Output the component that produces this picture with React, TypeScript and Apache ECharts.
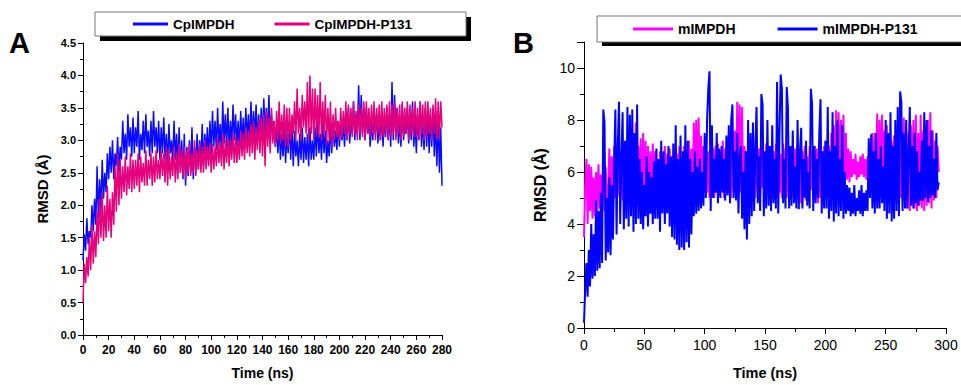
import React, { useEffect, useRef } from "react";
import * as echarts from "echarts";

// Panel A: RMSD (Å) sampled every STEP_A ns from 0 to 280 ns
const STEP_A = 1;
const cpIMPDH = [
  1.15, 1.55, 1.3, 1.8, 1.4, 1.6, 1.5, 2.0, 1.6, 2.1, 1.7, 2.6, 1.8, 2.4, 1.9, 2.7, 2.1, 2.5, 2.2, 2.8,
  2.4, 2.9, 2.5, 3.0, 2.4, 2.8, 2.6, 3.05, 2.5, 2.9, 2.7, 3.3, 2.8, 3.1, 2.7, 3.4, 2.9, 3.2, 2.75, 3.35,
  2.8, 3.2, 2.9, 3.45, 2.7, 3.1, 2.85, 3.3, 2.8, 3.4, 2.9, 3.15, 2.75, 3.3, 2.8, 3.45, 2.9, 3.2, 2.8, 3.3,
  2.7, 3.2, 2.8, 3.35, 2.7, 3.1, 2.6, 3.25, 2.8, 3.0, 2.65, 3.3, 2.7, 3.1, 2.6, 3.2, 2.5, 3.0, 2.4, 3.1,
  2.3, 2.9, 2.45, 3.0, 2.5, 3.2, 2.4, 2.9, 2.6, 3.1, 2.55, 3.0, 2.7, 3.25, 2.6, 3.1, 2.8, 3.2, 2.7, 3.3,
  2.8, 3.45, 2.9, 3.3, 2.85, 3.5, 2.9, 3.25, 2.8, 3.6, 2.95, 3.4, 2.9, 3.5, 2.85, 3.3, 2.9, 3.55, 3.0, 3.4,
  2.9, 3.3, 2.85, 3.45, 2.95, 3.35, 2.9, 3.5, 3.0, 3.4, 2.9, 3.6, 3.0, 3.45, 3.05, 3.55, 2.95, 3.4, 3.0, 3.5,
  3.0, 3.65, 3.1, 3.5, 3.05, 3.7, 3.1, 3.4, 3.0, 3.3, 2.9, 3.2, 2.8, 3.25, 2.7, 3.1, 2.75, 3.2, 2.65, 3.1,
  2.8, 3.3, 2.7, 3.2, 2.6, 3.15, 2.75, 3.0, 2.6, 3.1, 2.7, 3.2, 2.65, 3.05, 2.7, 3.1, 2.6, 3.2, 2.7, 3.0,
  2.7, 3.2, 2.75, 3.3, 2.8, 3.1, 2.7, 3.25, 2.8, 3.15, 2.65, 3.0, 2.75, 3.2, 2.8, 3.3, 2.9, 3.15, 2.85, 3.3,
  2.9, 3.3, 3.0, 3.25, 2.9, 3.4, 3.0, 3.5, 2.95, 3.3, 3.1, 3.6, 3.0, 3.4, 3.1, 3.85, 3.0, 3.7, 3.1, 3.5,
  3.0, 3.5, 3.1, 3.35, 2.9, 3.3, 3.0, 3.5, 3.1, 3.4, 2.95, 3.3, 3.0, 3.45, 2.9, 3.35, 3.05, 3.5, 3.0, 3.4,
  2.9, 3.9, 3.0, 3.7, 3.05, 3.5, 2.95, 3.3, 2.9, 3.55, 3.0, 3.3, 3.1, 3.5, 2.95, 3.4, 3.0, 3.6, 2.9, 3.3,
  2.8, 3.4, 3.0, 3.6, 2.9, 3.3, 2.85, 3.5, 2.9, 3.4, 2.8, 3.35, 2.9, 3.5, 2.75, 3.3, 2.6, 3.4, 2.5, 3.2,
  2.3,
];
const cpIMPDH_P131 = [
  0.5, 1.1, 0.8, 1.2, 0.9, 1.5, 1.0, 1.7, 1.1, 1.6, 1.2, 1.9, 1.4, 2.1, 1.5, 2.2, 1.45, 2.0, 1.5, 2.3,
  1.6, 2.1, 1.5, 2.2, 1.7, 2.6, 1.9, 2.8, 2.0, 2.7, 2.1, 2.6, 2.2, 2.75, 2.15, 2.6, 2.25, 2.8, 2.2, 2.7,
  2.25, 2.7, 2.3, 2.8, 2.2, 2.75, 2.35, 2.65, 2.3, 2.85, 2.3, 2.7, 2.4, 2.8, 2.3, 2.75, 2.35, 2.85, 2.4, 2.7,
  2.4, 2.85, 2.45, 2.8, 2.35, 2.9, 2.3, 2.85, 2.4, 2.75, 2.45, 2.9, 2.35, 2.8, 2.4, 2.95, 2.5, 2.85, 2.45, 2.9,
  2.4, 2.85, 2.5, 2.95, 2.45, 2.8, 2.5, 3.0, 2.45, 2.85, 2.55, 2.95, 2.5, 2.9, 2.5, 3.0, 2.55, 2.9, 2.6, 2.95,
  2.5, 2.95, 2.55, 2.9, 2.6, 3.05, 2.65, 2.95, 2.6, 3.1, 2.55, 3.0, 2.65, 3.05, 2.6, 3.0, 2.7, 3.1, 2.65, 3.05,
  2.65, 3.0, 2.7, 3.15, 2.75, 3.1, 2.7, 3.2, 2.8, 3.15, 2.75, 3.25, 2.8, 3.3, 2.7, 3.2, 2.85, 3.3, 2.8, 3.35,
  2.75, 3.4, 2.6, 3.45, 2.9, 3.35, 2.8, 3.5, 2.95, 3.3, 2.9, 3.45, 3.0, 3.6, 2.95, 3.4, 3.0, 3.55, 2.9, 3.5,
  2.9, 3.5, 3.0, 3.4, 3.1, 3.6, 3.0, 3.8, 3.1, 3.5, 3.0, 3.7, 3.2, 3.6, 3.1, 3.9, 3.0, 4.0, 3.1, 3.8,
  3.0, 3.8, 3.1, 3.7, 3.05, 3.9, 3.0, 3.6, 3.1, 3.7, 2.95, 3.5, 3.0, 3.6, 2.9, 3.4, 3.0, 3.5, 3.05, 3.3,
  3.0, 3.5, 3.05, 3.45, 3.1, 3.6, 3.0, 3.55, 3.1, 3.5, 3.05, 3.6, 3.1, 3.45, 3.0, 3.55, 3.1, 3.5, 3.05, 3.6,
  3.0, 3.6, 3.1, 3.5, 3.05, 3.55, 3.1, 3.6, 3.0, 3.5, 3.1, 3.55, 3.0, 3.6, 3.05, 3.5, 3.1, 3.55, 3.0, 3.6,
  3.05, 3.55, 3.1, 3.6, 3.0, 3.5, 3.1, 3.55, 3.0, 3.6, 3.05, 3.5, 3.1, 3.6, 3.0, 3.55, 3.1, 3.5, 3.05, 3.6,
  3.05, 3.5, 3.0, 3.6, 3.1, 3.55, 3.0, 3.6, 3.05, 3.6, 3.1, 3.5, 3.0, 3.55, 3.1, 3.65, 3.0, 3.6, 3.05, 3.6,
  3.2,
];

// Panel B: RMSD (Å) sampled every STEP_B ns from 0 to 294 ns
const STEP_B = 1;
const mIMPDH = [
  3.5, 5.5, 6.5, 4.0, 6.3, 4.5, 6.2, 4.2, 5.8, 4.3, 6.0, 4.4, 6.3, 4.6, 5.9, 4.8, 6.0, 4.5, 6.2, 4.9,
  5.0, 6.9, 5.2, 6.6, 4.8, 7.0, 5.0, 6.7, 5.1, 6.5, 5.2, 6.8, 4.9, 6.9, 5.0, 7.0, 4.8, 6.6, 5.1, 6.9,
  4.6, 7.5, 4.5, 7.9, 4.7, 7.0, 4.8, 7.3, 4.6, 7.5, 4.3, 7.2, 4.5, 7.0, 5.0, 6.8, 4.7, 7.1, 4.9, 6.8,
  5.0, 6.5, 4.8, 6.8, 5.2, 6.6, 4.9, 7.0, 5.0, 6.7, 5.1, 6.9, 4.8, 6.6, 5.2, 6.8, 5.0, 6.7, 4.9, 7.0,
  4.8, 6.5, 5.0, 7.0, 5.2, 6.8, 5.0, 7.2, 5.1, 6.9, 5.0, 7.9, 5.3, 8.0, 5.2, 8.1, 5.0, 7.4, 5.3, 7.0,
  5.5, 7.0, 5.2, 6.8, 5.0, 7.2, 5.3, 6.9, 5.0, 7.0, 5.2, 7.1, 5.1, 6.8, 5.3, 7.2, 5.0, 6.9, 5.2, 7.3,
  5.2, 7.3, 5.0, 7.0, 5.3, 7.6, 5.1, 8.7, 5.5, 8.6, 5.2, 8.5, 5.0, 7.0, 5.2, 6.8, 5.0, 7.2, 5.3, 6.9,
  5.2, 6.8, 5.0, 7.2, 5.3, 6.9, 5.1, 7.0, 5.4, 6.8, 5.0, 7.1, 5.2, 6.9, 5.3, 7.0, 5.0, 6.8, 5.2, 7.1,
  5.0, 7.0, 5.2, 6.7, 5.0, 7.1, 5.3, 6.9, 5.0, 7.2, 4.9, 6.8, 5.1, 7.0, 5.2, 6.9, 5.0, 7.1, 4.9, 6.8,
  4.8, 6.8, 5.2, 7.0, 4.9, 6.6, 5.1, 7.0, 5.3, 6.8, 5.0, 7.0, 5.2, 6.9, 4.8, 7.1, 5.0, 6.8, 5.2, 7.0,
  5.0, 7.2, 5.2, 7.0, 5.0, 7.5, 5.3, 7.8, 5.4, 8.37, 5.5, 8.3, 5.3, 8.0, 5.5, 8.2, 5.6, 7.5, 5.7, 6.9,
  5.6, 6.8, 5.8, 6.5, 5.9, 6.7, 5.7, 6.4, 5.8, 6.6, 5.9, 6.7, 5.8, 6.5, 5.7, 6.6, 5.6, 7.0, 5.5, 7.5,
  5.5, 7.5, 5.6, 8.25, 5.8, 8.0, 5.6, 8.2, 5.5, 7.6, 5.3, 7.8, 5.2, 7.0, 5.4, 7.2, 5.0, 7.4, 5.2, 7.0,
  4.8, 7.2, 5.0, 7.0, 4.9, 8.1, 4.7, 7.6, 4.6, 7.5, 4.5, 7.8, 4.7, 8.0, 4.6, 8.2, 4.5, 7.5, 4.7, 8.2,
  4.6, 7.6, 4.5, 7.8, 4.7, 8.0, 4.8, 8.3, 4.6, 7.6, 4.9, 7.2, 5.0, 7.0, 6.0,
];
const mIMPDH_P131 = [
  0.2, 1.5, 2.5, 1.2, 3.0, 1.6, 4.0, 1.9, 3.6, 2.0, 4.9, 2.2, 4.5, 2.3, 5.2, 2.5, 8.4, 7.9, 2.6, 5.0,
  2.9, 5.8, 2.8, 5.5, 3.4, 6.2, 8.4, 3.6, 7.0, 8.7, 4.0, 6.5, 8.3, 3.8, 7.2, 4.2, 8.5, 3.9, 8.2, 4.3,
  8.4, 3.7, 7.5, 4.0, 8.6, 4.2, 6.5, 4.0, 6.0, 3.8, 5.5, 4.3, 6.6, 3.9, 6.0, 4.4, 5.8, 4.0, 6.4, 4.2,
  6.9, 4.2, 6.5, 3.7, 7.2, 4.4, 6.8, 4.0, 6.3, 4.4, 7.0, 3.9, 6.6, 3.5, 7.1, 3.4, 7.8, 3.2, 6.5, 3.0,
  7.4, 3.1, 6.8, 3.0, 7.8, 3.3, 7.2, 3.1, 6.5, 3.6, 6.0, 4.3, 6.8, 4.4, 6.2, 4.5, 6.5, 4.6, 6.0, 4.7,
  7.5, 5.0, 8.0, 9.2, 9.87, 4.5, 7.8, 5.0, 6.5, 5.2, 7.5, 4.8, 6.9, 5.0, 7.0, 5.2, 6.5, 4.9, 7.4, 5.1,
  7.8, 4.8, 8.0, 8.6, 5.0, 6.8, 4.9, 7.5, 4.4, 6.5, 7.0, 4.2, 6.0, 3.8, 6.8, 3.4, 8.0, 4.0, 7.5, 4.3,
  7.9, 4.5, 7.0, 8.5, 4.8, 6.6, 4.5, 9.0, 8.6, 4.3, 6.8, 4.6, 8.0, 4.7, 7.0, 4.5, 7.8, 4.8, 6.5, 4.6,
  9.46, 4.4, 7.5, 9.75, 9.2, 4.8, 6.5, 4.6, 9.27, 8.5, 4.6, 7.0, 4.7, 7.6, 4.8, 6.2, 4.6, 8.0, 4.57, 6.8,
  7.7, 4.6, 6.5, 5.0, 7.2, 4.7, 6.0, 4.6, 9.2, 8.6, 4.5, 7.0, 4.8, 6.5, 5.0, 7.5, 8.8, 4.4, 6.8, 4.6,
  7.2, 4.6, 8.5, 4.2, 6.8, 4.5, 8.3, 4.1, 7.0, 4.4, 8.0, 4.3, 6.5, 4.5, 7.8, 4.2, 6.0, 4.4, 5.5, 4.5,
  5.4, 4.3, 5.2, 4.4, 5.5, 4.3, 5.0, 4.5, 5.3, 4.4, 5.5, 4.3, 5.2, 4.5, 5.3, 4.5, 7.3, 5.0, 7.45, 4.6,
  6.8, 4.4, 7.5, 4.6, 6.5, 4.6, 7.0, 4.8, 6.2, 4.5, 8.0, 4.2, 7.5, 4.4, 8.3, 4.1, 7.0, 4.2, 8.0, 4.5,
  8.5, 4.3, 9.1, 8.7, 4.5, 7.5, 4.6, 8.0, 4.6, 6.5, 8.5, 4.7, 7.0, 4.6, 7.5, 4.8, 6.8, 4.7, 6.0, 4.9,
  7.2, 4.9, 8.3, 5.0, 8.0, 4.85, 7.0, 5.0, 7.6, 5.1, 6.5, 5.0, 7.5, 5.3, 5.6,
];

const FONT = 'Arial, "Liberation Sans", Helvetica, sans-serif';

const toPairs = (arr: number[], step: number) => arr.map((v, i) => [i * step, v]);

export default function App() {
  const ref = useRef<HTMLDivElement>(null);
  useEffect(() => {
    if (!ref.current) return;
    const chart = echarts.init(ref.current, undefined, { renderer: "svg" });
    const axisLine = { show: true, onZero: false, lineStyle: { color: "#000", width: 1 } };
    const option: any = {
      animation: false,
      backgroundColor: "#fff",
      grid: [
        { left: 83, top: 43, width: 359, height: 292 },
        { left: 584, top: 42, width: 362, height: 293 },
      ],
      xAxis: [
        {
          gridIndex: 0, type: "value", min: 0, max: 280, interval: 20,
          axisLine, axisTick: { show: true, length: 5, lineStyle: { color: "#000" } },
          minorTick: { show: true, splitNumber: 2, length: 3, lineStyle: { color: "#000" } },
          splitLine: { show: false },
          axisLabel: { color: "#000", fontWeight: "bold", fontSize: 12, fontFamily: FONT, margin: 9 },
          name: "Time (ns)", nameLocation: "middle", nameGap: 31,
          nameTextStyle: { color: "#000", fontWeight: "bold", fontSize: 14, fontFamily: FONT },
        },
        {
          gridIndex: 1, type: "value", min: 0, max: 300, interval: 50,
          axisLine, axisTick: { show: true, length: 6, lineStyle: { color: "#000" } },
          minorTick: { show: true, splitNumber: 2, length: 4, lineStyle: { color: "#000" } },
          splitLine: { show: false },
          axisLabel: { color: "#000", fontSize: 14, fontFamily: FONT, margin: 10 },
          name: "Time (ns)", nameLocation: "middle", nameGap: 37,
          nameTextStyle: { color: "#000", fontWeight: "bold", fontSize: 14.5, fontFamily: FONT },
        },
      ],
      yAxis: [
        {
          gridIndex: 0, type: "value", min: 0, max: 4.5, interval: 0.5,
          axisLine, axisTick: { show: true, length: 5, lineStyle: { color: "#000" } },
          minorTick: { show: true, splitNumber: 2, length: 3, lineStyle: { color: "#000" } },
          splitLine: { show: false },
          axisLabel: {
            color: "#000", fontWeight: "bold", fontSize: 11, fontFamily: FONT, margin: 7,
            formatter: (v: number) => v.toFixed(1),
          },
          name: "RMSD (Å)", nameLocation: "middle", nameGap: 33,
          nameTextStyle: { color: "#000", fontWeight: "bold", fontSize: 15, fontFamily: FONT },
        },
        {
          gridIndex: 1, type: "value", min: 0, max: 11, interval: 2,
          axisLine, axisTick: { show: true, length: 7, lineStyle: { color: "#000" } },
          minorTick: { show: true, splitNumber: 2, length: 4, lineStyle: { color: "#000" } },
          splitLine: { show: false },
          axisLabel: {
            color: "#000", fontSize: 14, fontFamily: FONT, margin: 9,
            formatter: (v: number) => (v % 2 === 0 ? String(v) : ""),
          },
          name: "RMSD (Å)", nameLocation: "middle", nameGap: 36,
          nameTextStyle: { color: "#000", fontWeight: "bold", fontSize: 16, fontFamily: FONT },
        },
      ],
      legend: [
        {
          data: ["CpIMPDH", "CpIMPDH-P131"], left: 133, top: 17, itemWidth: 35, itemHeight: 3,
          icon: "rect", itemGap: 40, padding: 0,
          textStyle: { color: "#000", fontWeight: "bold", fontSize: 13.5, fontFamily: FONT, lineHeight: 14 },
        },
        {
          data: ["mIMPDH", "mIMPDH-P131"], left: 633, top: 22, itemWidth: 40, itemHeight: 3,
          icon: "rect", itemGap: 42, padding: 0,
          textStyle: { color: "#000", fontWeight: "bold", fontSize: 14, fontFamily: FONT, lineHeight: 14 },
        },
      ],
      graphic: [
        { type: "rect", silent: true, shape: { x: 100, y: 17, width: 371, height: 24 }, style: { fill: "#000" } },
        { type: "rect", silent: true, shape: { x: 95, y: 12, width: 371, height: 24 }, style: { fill: "#fff", stroke: "#777", lineWidth: 1 } },
        { type: "rect", silent: true, shape: { x: 602, y: 21, width: 400, height: 25 }, style: { fill: "#000" } },
        { type: "rect", silent: true, shape: { x: 597, y: 16, width: 400, height: 26 }, style: { fill: "#fff", stroke: "#777", lineWidth: 1 } },
        { type: "text", silent: true, x: 9, y: 43, style: { text: "A", fill: "#000", font: `bold 29px ${FONT}`, textAlign: "left", textVerticalAlign: "middle" } },
        { type: "text", silent: true, x: 513, y: 43, style: { text: "B", fill: "#000", font: `bold 29px ${FONT}`, textAlign: "left", textVerticalAlign: "middle" } },
      ],
      series: [
        {
          name: "CpIMPDH", type: "line", xAxisIndex: 0, yAxisIndex: 0, symbol: "none", silent: true,
          data: toPairs(cpIMPDH, STEP_A), color: "#0a0aff", lineStyle: { width: 1.5, color: "#0a0aff" }, z: 2,
        },
        {
          name: "CpIMPDH-P131", type: "line", xAxisIndex: 0, yAxisIndex: 0, symbol: "none", silent: true,
          data: toPairs(cpIMPDH_P131, STEP_A), color: "#e2007c", lineStyle: { width: 1.5, color: "#e2007c" }, z: 3,
        },
        {
          name: "mIMPDH", type: "line", xAxisIndex: 1, yAxisIndex: 1, symbol: "none", silent: true,
          data: toPairs(mIMPDH, STEP_B), color: "#ff00ff", lineStyle: { width: 2, color: "#ff00ff" }, z: 2,
        },
        {
          name: "mIMPDH-P131", type: "line", xAxisIndex: 1, yAxisIndex: 1, symbol: "none", silent: true,
          data: toPairs(mIMPDH_P131, STEP_B), color: "#0000ff", lineStyle: { width: 2, color: "#0000ff" }, z: 3,
        },
      ],
    };
    chart.setOption(option);
    return () => chart.dispose();
  }, []);
  return (
    <div
      ref={ref}
      style={{ position: "fixed", left: 0, top: 0, width: 961, height: 385, background: "#fff" }}
    />
  );
}
